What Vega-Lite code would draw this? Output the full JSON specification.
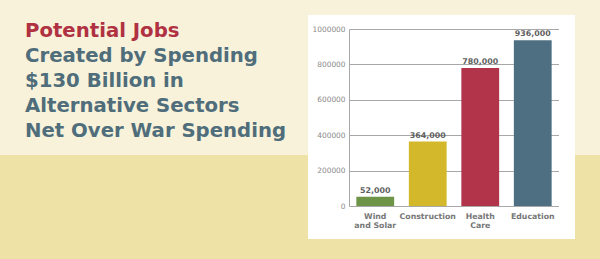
{
  "$schema": "https://vega.github.io/schema/vega-lite/v6.json",
  "padding": 0,
  "background": "#ffffff",
  "spacing": 0,
  "resolve": {"scale": {"color": "independent"}},
  "config": {"view": {"stroke": null}, "concat": {"spacing": 0}, "font": "DejaVu Sans"},
  "vconcat": [
    {"width": 600, "height": 15, "view": {"stroke": null, "fill": "#f8f2da"}, "data": {"values": []}, "mark": "rect", "encoding": {}},
    {
      "spacing": 0,
      "resolve": {"scale": {"color": "independent"}},
      "hconcat": [
        {
          "width": 308,
          "height": 224,
          "view": {"stroke": null, "fill": {"gradient": "linear", "x1": 0, "y1": 0, "x2": 0, "y2": 1, "stops": [{"offset": 0, "color": "#f8f2da"}, {"offset": 0.624, "color": "#f8f2da"}, {"offset": 0.626, "color": "#efe2a7"}, {"offset": 1, "color": "#efe2a7"}]}},
          "data": {"values": [
            {"line": 1, "text": "Potential Jobs", "part": "lead"},
            {"line": 2, "text": "Created by Spending", "part": "rest"},
            {"line": 3, "text": "$130 Billion in", "part": "rest"},
            {"line": 4, "text": "Alternative Sectors", "part": "rest"},
            {"line": 5, "text": "Net Over War Spending", "part": "rest"}
          ]},
          "mark": {"type": "text", "align": "left", "baseline": "alphabetic", "dx": -129, "font": "DejaVu Sans", "fontWeight": "bold", "fontSize": 19.7},
          "encoding": {
            "y": {"field": "line", "type": "ordinal", "axis": null, "scale": {"type": "point", "padding": 0, "range": [22, 122]}},
            "text": {"field": "text"},
            "color": {"field": "part", "type": "nominal", "scale": {"domain": ["lead", "rest"], "range": ["#b03141", "#4f6d7a"]}, "legend": null}
          }
        },
        {
          "spacing": 0,
          "vconcat": [
            {"width": 210, "height": 10, "view": {"stroke": null, "fill": "#ffffff"}, "data": {"values": []}, "mark": "rect", "encoding": {}},
            {
              "width": 210,
              "height": 177,
              "view": {"stroke": null},
              "data": {"values": [
                {"sector": "Wind and Solar", "jobs": 52000},
                {"sector": "Construction", "jobs": 364000},
                {"sector": "Health Care", "jobs": 780000},
                {"sector": "Education", "jobs": 936000}
              ]},
              "encoding": {
                "x": {"field": "sector", "type": "nominal", "sort": null, "scale": {"paddingInner": 0.28, "paddingOuter": 0.14},
                  "axis": {"title": null, "labelAngle": 0, "domain": false, "ticks": false, "labelPadding": 6, "labelFont": "DejaVu Sans", "labelFontSize": 7.8, "labelFontWeight": "bold", "labelColor": "#777777", "labelLineHeight": 9, "minExtent": 33, "maxExtent": 33,
                    "labelExpr": "datum.value == 'Wind and Solar' ? ['Wind', 'and Solar'] : datum.value == 'Health Care' ? ['Health', 'Care'] : datum.label"}},
                "y": {"field": "jobs", "type": "quantitative", "scale": {"domain": [0, 1000000], "nice": false},
                  "axis": {"title": null, "values": [0, 200000, 400000, 600000, 800000, 1000000], "format": "d", "ticks": false, "labelPadding": 4, "labelFont": "DejaVu Sans", "labelFontSize": 7.4, "labelColor": "#8a8a8a", "domainColor": "#a8a8a8", "gridColor": "#a8a8a8", "gridOpacity": 1, "minExtent": 41, "maxExtent": 41}}
              },
              "layer": [
                {"mark": {"type": "bar"}, "encoding": {"color": {"field": "sector", "type": "nominal", "sort": null, "scale": {"domain": ["Wind and Solar", "Construction", "Health Care", "Education"], "range": ["#6e9447", "#d4b82b", "#b1344a", "#4e6f82"]}, "legend": null}}},
                {"mark": {"type": "text", "baseline": "alphabetic", "dy": -4, "font": "DejaVu Sans", "fontSize": 7.9, "fontWeight": "bold", "color": "#5f5f5f"}, "encoding": {"text": {"field": "jobs", "type": "quantitative", "format": ","}}}
              ]
            }
          ]
        },
        {"width": 16, "height": 224, "view": {"stroke": null, "fill": "#ffffff"}, "data": {"values": []}, "mark": "rect", "encoding": {}},
        {
          "width": 25,
          "height": 224,
          "view": {"stroke": null, "fill": {"gradient": "linear", "x1": 0, "y1": 0, "x2": 0, "y2": 1, "stops": [{"offset": 0, "color": "#f8f2da"}, {"offset": 0.624, "color": "#f8f2da"}, {"offset": 0.626, "color": "#efe2a7"}, {"offset": 1, "color": "#efe2a7"}]}},
          "data": {"values": []},
          "mark": "rect",
          "encoding": {}
        }
      ]
    },
    {"width": 600, "height": 20, "view": {"stroke": null, "fill": "#efe2a7"}, "data": {"values": []}, "mark": "rect", "encoding": {}}
  ]
}
